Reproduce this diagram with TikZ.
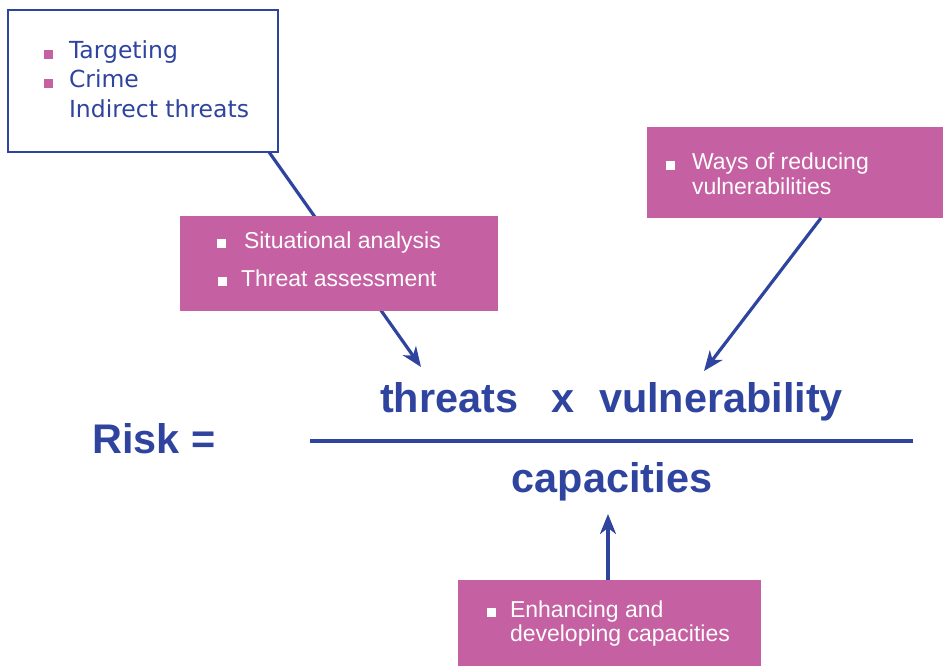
\documentclass[tikz,border=0pt]{standalone}
\usepackage{fontspec}
\setmainfont{Liberation Sans}
\newfontfamily\verdana{DejaVu Sans}
\usetikzlibrary{arrows.meta,positioning}
\definecolor{riskblue}{RGB}{46,68,158}
\definecolor{riskpink}{RGB}{197,96,162}
\newcommand{\sqbul}[2]{\makebox[#1][l]{\color{#2}\rule{9pt}{9pt}}}

\begin{document}
\begin{tikzpicture}[
  x=1pt, y=-1pt,
  every node/.style={inner sep=0pt, outer sep=0pt},
  pinkbox/.style={fill=riskpink, anchor=north west},
  item/.style={anchor=base west, text=white, font=\fontsize{23}{24}\selectfont},
  listitem/.style={anchor=base west, text=riskblue, font=\verdana\fontsize{23.5}{29}\selectfont},
  bigtext/.style={anchor=base, text=riskblue, font=\bfseries\fontsize{41.4}{48}\selectfont},
  link/.style={draw=riskblue, line width=3.2pt, -{Stealth[length=20pt,width=16pt,inset=6pt]}},
  ]
  \useasboundingbox (0,0) rectangle (943,666);

  % list of threats
  \node[draw=riskblue, line width=2pt, minimum width=270pt, minimum height=142pt,
        anchor=north west] (tl) at (8,10) {};
  \node[listitem] (targ) at (44,59) {\sqbul{25pt}{riskpink}Targeting};
  \node[listitem] (crime) at (44,88) {\sqbul{25pt}{riskpink}Crime};
  \node[listitem] (indir) at (69,118) {Indirect threats};

  \coordinate (tip1) at (421,367);
  \draw[link] ([xshift=-9pt]tl.south east) -- (tip1);

  \node[pinkbox, minimum width=318pt, minimum height=95pt] (sit) at (180,216) {};
  \node[item] (sit1) at (217,248) {\sqbul{27pt}{white}Situational analysis};
  \node[item] (sit2) at (218,286) {\sqbul{23pt}{white}Threat assessment};

  \node[pinkbox, minimum width=296pt, minimum height=91pt] (ways) at (647,127) {};
  \node[item] (ways1) at (666,170) {\sqbul{26pt}{white}Ways of reducing};
  \node[item] (ways2) at (692,194) {vulnerabilities};
  \coordinate (tip2) at (704,371);
  \draw[link] ([xshift=26pt]ways.south) -- (tip2);

  % the formula
  \node[bigtext] (risk) at (154,453) {Risk =};
  \node[bigtext] (num) at (611.5,412) {threats\hspace{33pt}x\hspace{25pt}vulnerability};
  \draw[riskblue, line width=3.5pt] (310,441) -- (913,441);
  \node[bigtext] (den) at (612,492) {capacities};

  \node[pinkbox, minimum width=303pt, minimum height=86pt] (enh) at (458,580) {};
  \node[item] (enh1) at (487,617) {\sqbul{23pt}{white}Enhancing and};
  \node[item] (enh2) at (510,641) {developing capacities};
  \coordinate (tip3) at (608,514);
  \draw[link] ([xshift=-1.5pt]enh.north) -- (tip3);
\end{tikzpicture}
\end{document}
